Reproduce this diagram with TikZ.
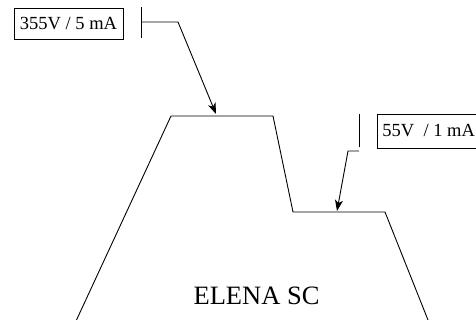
\documentclass[tikz,border=0pt]{standalone}
\usepackage{fontspec}
\setmainfont{Liberation Serif}
\usepackage{tikz}
\usetikzlibrary{arrows.meta, positioning, calc}

\begin{document}
\begin{tikzpicture}[x=1pt, y=-1pt, line width=0.9pt,
    valbox/.style={draw, line width=0.8pt, font=\fontsize{18.5}{20}\selectfont, inner xsep=5pt, inner ysep=0pt, minimum height=31pt},
    pointer/.style={-{Stealth[length=11pt, width=8pt, inset=3pt]}}]
  \useasboundingbox (0, 0) rectangle (476, 320);

  % Profile of the ring (trapezoid with a lower step)
  \coordinate (botL) at (76.5, 320);
  \coordinate (topL) at (171, 116);
  \coordinate (topR) at (273, 116);
  \coordinate (stepL) at (293, 212);
  \coordinate (stepR) at (385, 212);
  \coordinate (botR) at (428, 320);
  \draw (botL) -- (topL) -- (topR) -- (stepL) -- (stepR) -- (botR);
  \node[font=\fontsize{26.5}{28}\selectfont] (name) at (256.5, 296) {ELENA SC};

  % Upper value
  \node[valbox, minimum width=109pt] (hiVal) at (68.5, 23.5) {355V / 5 mA};
  \coordinate (hiTickT) at (141, 7);
  \coordinate (hiTickB) at (141, 38);
  \coordinate (hiKnee) at (178, 22);
  \coordinate (hiTip) at (216, 114);
  \draw (hiTickT) -- (hiTickB); % tick
  \draw[pointer] (hiTickT |- hiKnee) -- (hiKnee) -- (hiTip);

  % Lower value
  \node[valbox, anchor=west, minimum height=34pt] (loVal) at (377, 131) {55V \ / 1 mA};
  \coordinate (loTickT) at (359, 114);
  \coordinate (loTickB) at (359, 147);
  \coordinate (loKnee) at (348, 151);
  \coordinate (loTip) at (337, 211);
  \draw (loTickT) -- (loTickB); % tick
  \draw[pointer] (loTickT |- loKnee) -- (loKnee) -- (loTip);
\end{tikzpicture}
\end{document}
